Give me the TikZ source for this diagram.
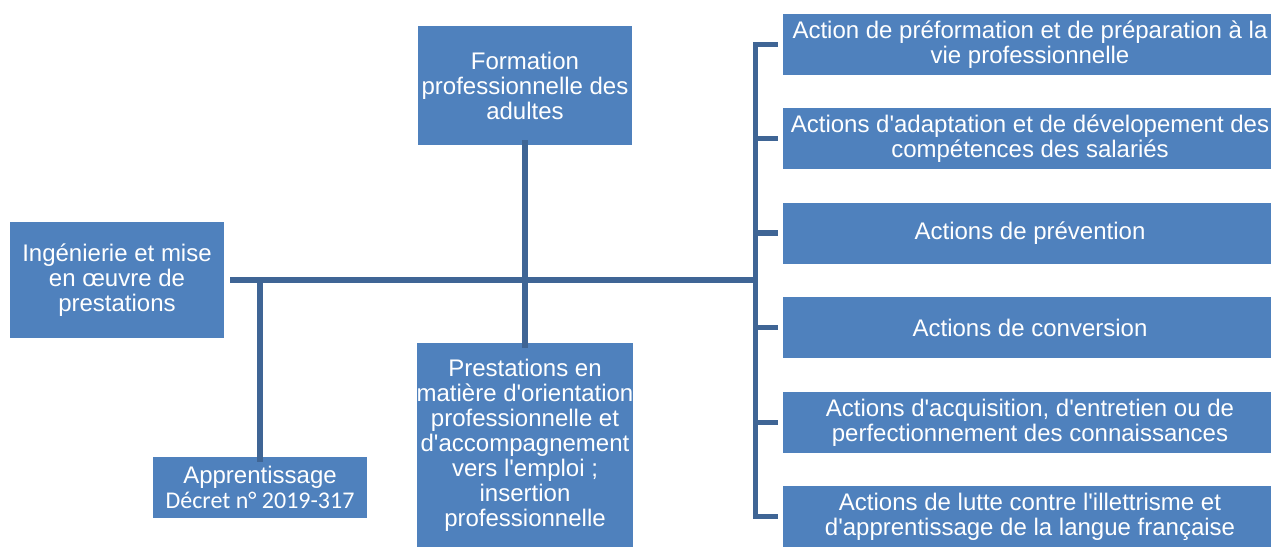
\documentclass[tikz,border=0pt]{standalone}
\usepackage{fontspec}
\setmainfont{Liberation Sans}
\newfontfamily\carl{Carlito}
\usetikzlibrary{calc}
\definecolor{boxblue}{HTML}{4F81BD}
\definecolor{linkblue}{HTML}{3F6595}
\newcommand{\ap}{\textquotesingle}
\tikzset{
  bbox/.style={fill=boxblue, text=white, inner sep=0pt, align=center,
    font=\fontsize{24}{25}\selectfont},
  link/.style={draw=linkblue, line width=5.5pt, line join=miter}
}
\begin{document}
\begin{tikzpicture}[x=1pt,y=-1pt]
\useasboundingbox (0,0) rectangle (1271,547);
% left boxes
\node[bbox, minimum width=214pt, minimum height=116pt] (ing) at (117,280)
  {Ingénierie et mise\\en œuvre de\\prestations};
\node[bbox, minimum width=214pt, minimum height=119pt] (form) at (525,85.5)
  {Formation\\professionnelle des\\adultes};
\node[bbox, minimum width=214pt, minimum height=204pt] (prest) at (525,445)
  {Prestations en\\matière d\ap orientation\\professionnelle et\\d\ap accompagnement\\vers l\ap emploi ;\\insertion\\professionnelle};
\node[bbox, minimum width=214pt, minimum height=61pt] (app) at (260,487.5)
  {Apprentissage\\{\carl Décret n° 2019-317}};
% right boxes
\node[bbox, minimum width=494pt, minimum height=61pt] (r1) at (1030,44.5)
  {Action de préformation et de préparation à la\\vie professionnelle};
\node[bbox, minimum width=494pt, minimum height=61pt] (r2) at (1030,138.5)
  {Actions d\ap adaptation et de dévelopement des\\compétences des salariés};
\node[bbox, minimum width=494pt, minimum height=61pt] (r3) at (1030,233)
  {Actions de prévention};
\node[bbox, minimum width=494pt, minimum height=61pt] (r4) at (1030,327.5)
  {Actions de conversion};
\node[bbox, minimum width=494pt, minimum height=61pt] (r5) at (1030,422.5)
  {Actions d\ap acquisition, d\ap entretien ou de\\perfectionnement des connaissances};
\node[bbox, minimum width=494pt, minimum height=61pt] (r6) at (1030,516.5)
  {Actions de lutte contre l\ap illettrisme et\\d\ap apprentissage de la langue française};
% connectors
\coordinate (bx) at (758,280);
\coordinate (apx) at (260,280);
\draw[link] ([xshift=6pt]ing.east) -- (bx);
\draw[link] (apx) -- ([yshift=-5pt]app.north);
\draw[link] ([yshift=5pt]form.south) -- ([yshift=-5pt]prest.north);
\draw[link] ([xshift=-5pt]r1.west) -- ++(-22.25,0) |- ([xshift=-5pt]r6.west);
\foreach \r in {r2,r3,r4,r5}
  \draw[link] ([xshift=-5pt]\r.west) -- ++(-22.25,0);
\end{tikzpicture}
\end{document}
